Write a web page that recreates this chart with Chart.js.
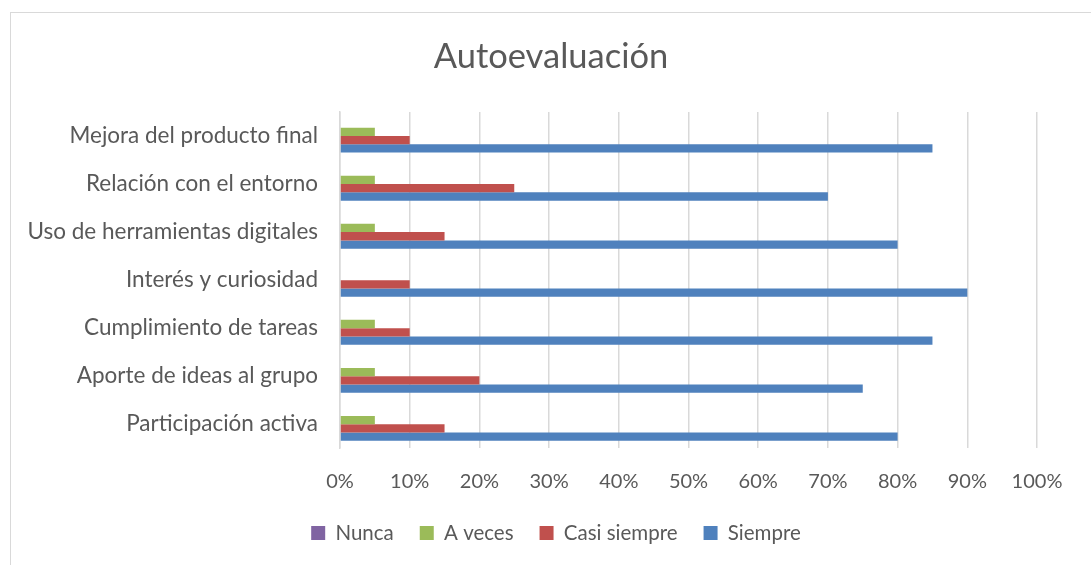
<!DOCTYPE html>
<html><head><meta charset="utf-8">
<script src="https://cdn.jsdelivr.net/npm/chart.js@4/dist/chart.umd.min.js"></script>
<style>
html,body{margin:0;padding:0;background:#fff;overflow:hidden}
#wrap{position:absolute;left:0;top:0;width:1091px;height:565px}
#frame{position:absolute;left:10px;top:12px;width:1100px;height:600px;border:1px solid #d9d9d9;box-sizing:border-box}
canvas{position:absolute;left:0;top:0}
</style></head>
<body><div id="wrap"><div id="frame"></div><canvas id="c" width="1091" height="565"></canvas></div>
<script>
const categories = ["Mejora del producto final","Relación con el entorno","Uso de herramientas digitales","Interés y curiosidad","Cumplimiento de tareas","Aporte de ideas al grupo","Participación activa"];
const nunca = [0,0,0,0,0,0,0];
const aVeces = [5,5,5,0,5,5,5];
const casiSiempre = [10,25,15,10,10,20,15];
const siempre = [85,70,80,90,85,75,80];
const xTicks = [0,10,20,30,40,50,60,70,80,90,100];
const chartTitle = 'Autoevaluación';

const FONT = "Lato, 'Open Sans', sans-serif";
const GREY = "#595959";
const LEG_FS = 20.5, LEG_PAD = 26;

const titlePlugin = {
  id: 'excelTitle',
  afterDraw(chart) {
    const ctx = chart.ctx;
    ctx.save();
    ctx.fillStyle = GREY;
    ctx.font = "34.5px " + FONT;
    ctx.textAlign = 'center';
    ctx.textBaseline = 'middle';
    ctx.fillText(chartTitle, 551, 57);
    ctx.restore();
  }
};

new Chart(document.getElementById('c'), {
  type: 'bar',
  data: {
    labels: categories,
    datasets: [
      {label:'Nunca', data:nunca, backgroundColor:'#8064A2', yAxisID:'y'},
      {label:'A veces', data:aVeces, backgroundColor:'#9BBB59', yAxisID:'y'},
      {label:'Casi siempre', data:casiSiempre, backgroundColor:'#C0504D', yAxisID:'y'},
      {label:'Siempre', data:siempre, backgroundColor:'#4F81BD', yAxisID:'y'}
    ]
  },
  plugins: [titlePlugin],
  options: {
    indexAxis: 'y',
    responsive: false,
    animation: false,
    devicePixelRatio: 1,
    layout: {padding: {left: 21, right: 0, top: 112, bottom: 22 - LEG_FS/2}},
    datasets: {bar: {categoryPercentage: 0.69, barPercentage: 1.0}},
    plugins: {
      title: {display: false},
      legend: {position: 'bottom',
        labels: {color: GREY, boxWidth: 14, boxHeight: 14, padding: LEG_PAD,
          font: {family: FONT, size: LEG_FS}}},
      tooltip: {enabled: false}
    },
    scales: {
      x: {min: 0, max: 100,
        afterBuildTicks: s => { s.ticks = xTicks.map(v => ({value: v})); },
        afterFit: s => { s.height = 74.5 - LEG_PAD; },
        ticks: {callback: v => v + '%', color: GREY, padding: 21,
          font: {family: FONT, size: 20}},
        grid: {color: '#d9d9d9', lineWidth: 1.5, drawTicks: false},
        border: {display: false}
      },
      y: {
        afterFit: s => { s.width = 319; },
        ticks: {color: GREY, padding: 22, font: {family: FONT, size: 22.5}},
        grid: {display: false, drawTicks: false},
        border: {display: true, color: '#d9d9d9', width: 1.5}
      },
      yR: {axis: 'y', position: 'right', type: 'category',
        afterFit: s => { s.width = 54; },
        ticks: {display: false},
        grid: {display: false, drawTicks: false},
        border: {display: false}
      }
    }
  }
});
</script></body></html>
